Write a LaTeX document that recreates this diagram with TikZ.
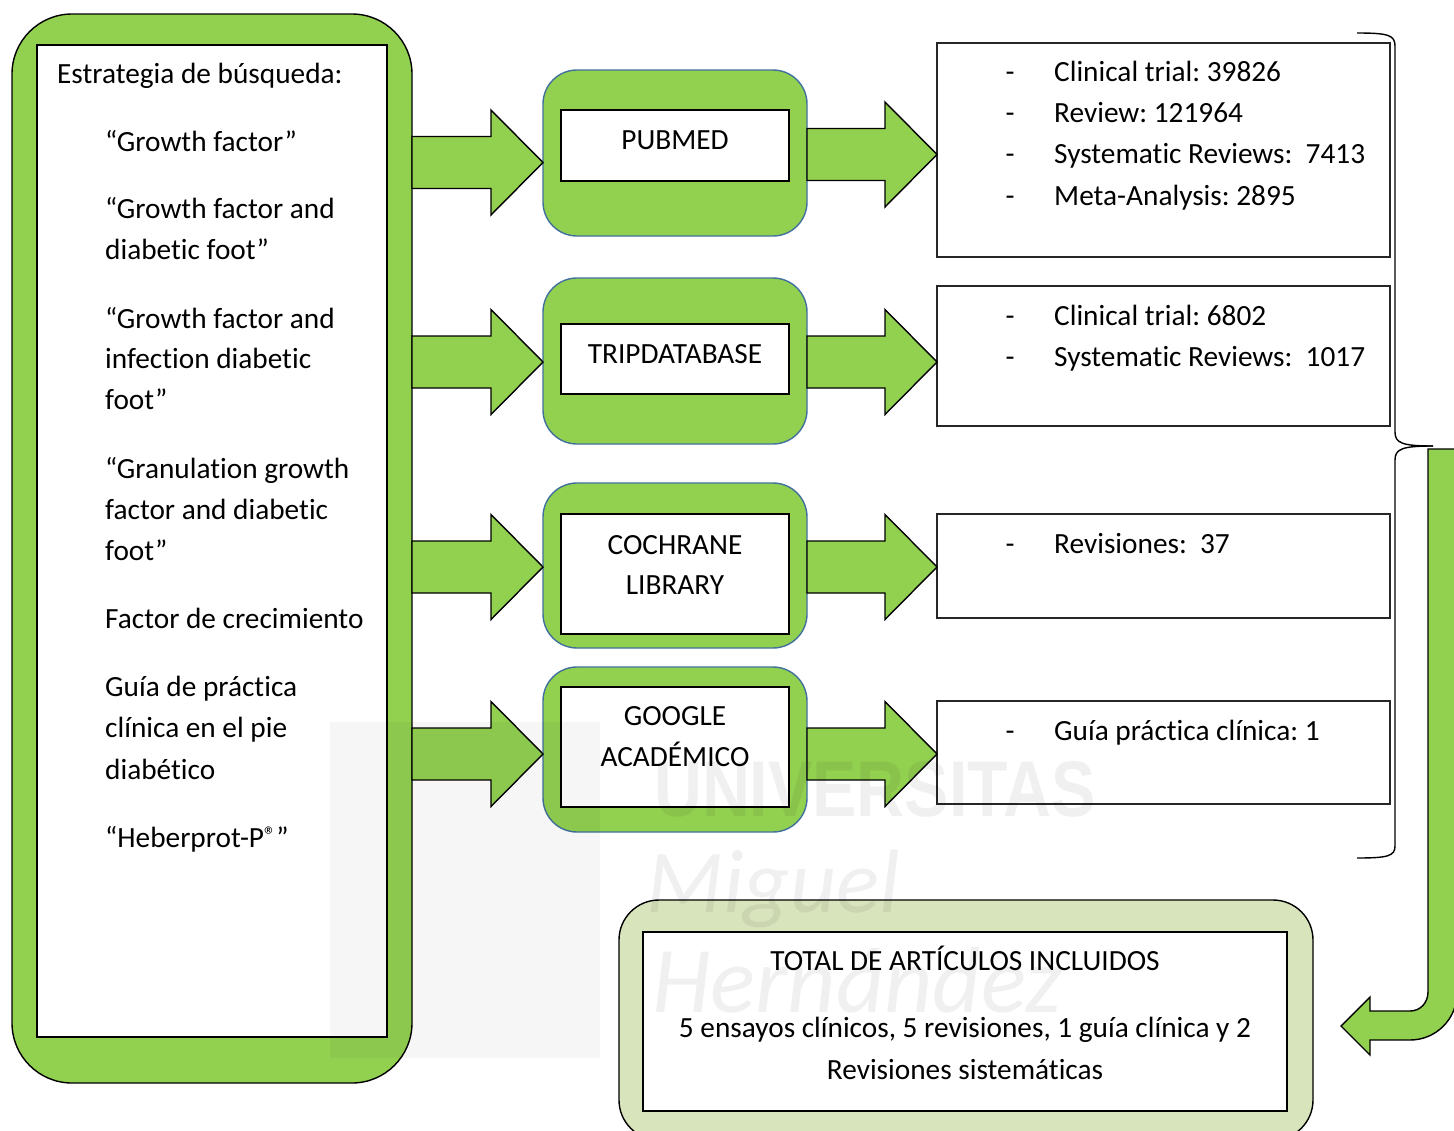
\documentclass[tikz,border=0pt]{standalone}
\usepackage{fontspec}
\setmainfont{Carlito}[Ligatures={NoCommon}]
\newfontfamily\wmsans{Liberation Sans}
\usetikzlibrary{calc}
\definecolor{grn}{RGB}{146,208,80}
\definecolor{pale}{RGB}{216,228,188}
\definecolor{bord}{RGB}{65,113,156}
\newcommand\blkarrow[3]{% from node, to node, pixel y of axis
  \filldraw[arrowsty] let \p1=(#1.east), \p2=(#2.west) in
    (\x1,{-(#3-26)*1pt}) -- (\x2-52pt,{-(#3-26)*1pt}) -- (\x2-52pt,{-(#3-52.5)*1pt})
    -- (\x2,{-(#3)*1pt}) -- (\x2-52pt,{-(#3+52.5)*1pt}) -- (\x2-52pt,{-(#3+26)*1pt})
    -- (\x1,{-(#3+26)*1pt}) -- cycle;}
\newcommand\regmark{\raisebox{0.25ex}{\fontsize{24}{24}\selectfont ®}}
\frenchspacing
\begin{document}
\begin{tikzpicture}[x=1pt,y=-1pt,
  txt/.style={font=\fontsize{29.3}{35}\selectfont, anchor=base west, inner sep=0pt},
  ctxt/.style={font=\fontsize{29.3}{35}\selectfont, anchor=base, inner sep=0pt},
  dashtxt/.style={font=\fontsize{29.3}{35}\selectfont, anchor=base, inner sep=0pt},
  bigbox/.style={draw=black, line width=1.4pt, fill=grn, rounded corners=60pt, inner sep=0pt, outer sep=0pt},
  dbbox/.style={draw=bord, line width=1.4pt, fill=grn, rounded corners=34pt, inner sep=0pt, outer sep=0pt, minimum width=264pt},
  whitebox/.style={draw=black, line width=1.2pt, fill=white, inner sep=0pt, outer sep=0pt},
  resbox/.style={draw=black!85, line width=1.1pt, fill=white, inner sep=0pt, outer sep=0pt, minimum width=453pt},
  totbox/.style={draw=black, line width=1.4pt, fill=pale, rounded corners=40pt, inner sep=0pt, outer sep=0pt},
  arrowsty/.style={draw=black, line width=1.4pt, fill=grn, line join=miter},
  bracesty/.style={draw=black, line width=1.4pt}
]
\useasboundingbox (0,0) rectangle (1454,1130);
\fill[white] (0,0) rectangle (1454,1130);

% left search-strategy box
\node[bigbox, minimum width=400pt, minimum height=1069pt] (srcout) at (212,548.5) {};
\node[whitebox, minimum width=350pt, minimum height=992pt] (srcin) at (212,541) {};
\node[txt] (s0) at (57,83) {Estrategia de búsqueda:};
\foreach \yy/\tt [count=\i] in {151/{“Growth factor”},218/{“Growth factor and},259/{diabetic foot”},
   328/{“Growth factor and},368/{infection diabetic},409/{foot”},
   478/{“Granulation growth},519/{factor and diabetic},560/{foot”},
   628/{Factor de crecimiento},696/{Guía de práctica},737/{clínica en el pie},779/{diabético},
   847/{“Heberprot-P\regmark”}}
  \node[txt] (s\i) at (105,\yy) {\tt};

% database boxes
\node[dbbox, minimum height=166pt] (pub) at (675,153) {};
\node[whitebox, minimum width=228pt, minimum height=71pt] (pubin) at (675,145.5) {};
\node[ctxt] (pubt) at (675,149) {PUBMED};

\node[dbbox, minimum height=166pt] (trip) at (675,361) {};
\node[whitebox, minimum width=228pt, minimum height=70pt] (tripin) at (675,359) {};
\node[ctxt] (tript) at (675,363) {TRIPDATABASE};

\node[dbbox, minimum height=165pt] (coch) at (675,565.5) {};
\node[whitebox, minimum width=228pt, minimum height=120pt] (cochin) at (675,574) {};
\node[ctxt] (cocht1) at (675,554) {COCHRANE};
\node[ctxt] (cocht2) at (675,594) {LIBRARY};

\node[dbbox, minimum height=165pt] (goog) at (675,749.5) {};
\node[whitebox, minimum width=228pt, minimum height=120pt] (googin) at (675,747) {};
\node[ctxt] (googt1) at (675,725) {GOOGLE};
\node[ctxt] (googt2) at (675,766) {ACADÉMICO};

% result boxes
\node[resbox, minimum height=214pt] (r1) at (1163.5,150) {};
\node[resbox, minimum height=140pt] (r2) at (1163.5,356) {};
\node[resbox, minimum height=104pt] (r3) at (1163.5,566) {};
\node[resbox, minimum height=103pt] (r4) at (1163.5,752.5) {};

\foreach \yy/\tt [count=\i] in {81/{Clinical trial: 39826},122/{Review: 121964},163/{Systematic Reviews:\ \ 7413},205/{Meta-Analysis: 2895},
   325/{Clinical trial: 6802},366/{Systematic Reviews:\ \ 1017},553/{Revisiones:\ \ 37},740/{Guía práctica clínica: 1}}
  {\node[dashtxt] (d\i) at (1010,\yy) {-};
   \node[txt] (t\i) at (1054,\yy) {\tt};}

% block arrows
\blkarrow{srcout}{pub}{162.5}
\blkarrow{srcout}{trip}{362}
\blkarrow{srcout}{coch}{567}
\blkarrow{srcout}{goog}{754}
\blkarrow{pub}{r1}{154.5}
\blkarrow{trip}{r2}{362}
\blkarrow{coch}{r3}{567}
\blkarrow{goog}{r4}{754}

% brace
\coordinate (btop) at (1357,33);
\coordinate (btip) at (1433,446);
\coordinate (bbot) at (1357,858);
\draw[bracesty] (btop) .. controls (1388,33) and (1395,35) .. (1395,46) -- (1395,432)
   .. controls (1395,443) and (1402,446) .. (btip);
\draw[bracesty] (btip) .. controls (1402,446) and (1395,449) .. (1395,460) -- (1395,846)
   .. controls (1395,856) and (1388,858) .. (bbot);

% total box
\node[totbox, minimum width=694pt, minimum height=240pt] (tot) at (966,1020) {};
\node[whitebox, line width=1.1pt, minimum width=644pt, minimum height=179pt] (totin) at (965,1021.5) {};
\node[ctxt] (tt1) at (965,970) {TOTAL DE ARTÍCULOS INCLUIDOS};
\node[ctxt] (tt2) at (965,1037) {5 ensayos clínicos, 5 revisiones, 1 guía clínica y 2};
\node[ctxt] (tt3) at (965,1079) {Revisiones sistemáticas};

% bent arrow from brace to total box
\filldraw[arrowsty] (1428,449) -- (1428,992) .. controls (1428,1003) and (1420,1011) .. (1410,1011)
  -- (1370,1011) -- (1370,997) -- (1341,1026) -- (1370,1055) -- (1370,1040) -- (1410,1040)
  .. controls (1436,1040) and (1457,1019) .. (1457,993) -- (1457,449) -- cycle;

% watermark
\begin{scope}[opacity=0.035]
  \fill[black] (330,722) rectangle (600,1058);
\end{scope}
\begin{scope}[opacity=0.06]
  \node[anchor=base west, inner sep=0pt, font=\wmsans\bfseries\fontsize{79}{79}\selectfont, xscale=0.84] (wm1) at (654,816) {UNIVERSITAS};
  \node[anchor=base west, inner sep=0pt, font=\itshape\fontsize{90}{90}\selectfont] (wm2) at (646,912) {Miguel};
  \node[anchor=base west, inner sep=0pt, font=\itshape\fontsize{94}{94}\selectfont] (wm3) at (652,1012) {Hernández};
\end{scope}
\end{tikzpicture}
\end{document}
